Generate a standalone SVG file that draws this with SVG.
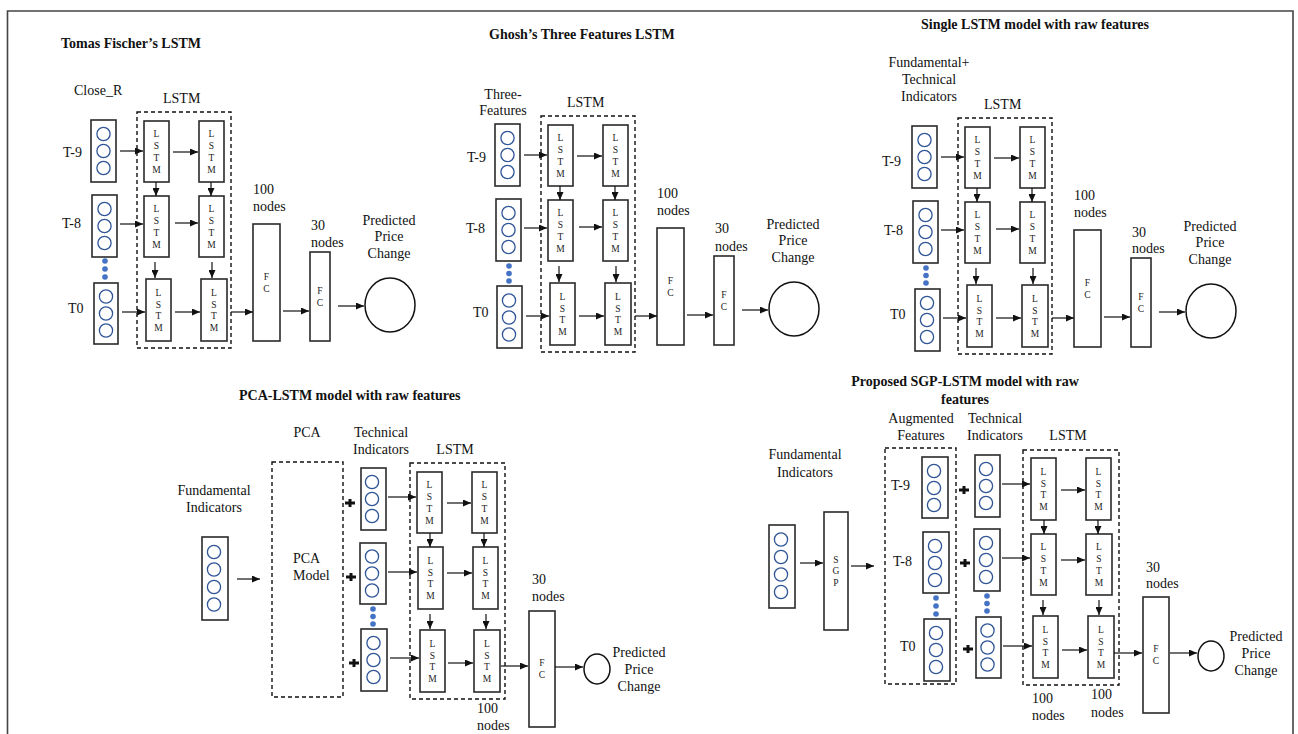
<svg xmlns="http://www.w3.org/2000/svg" width="1298" height="734" viewBox="0 0 1298 734">
<defs>
<marker id="ah" markerWidth="8" markerHeight="7" refX="8" refY="3.5" orient="auto" markerUnits="userSpaceOnUse"><path d="M0,0 L8,3.5 L0,7 z" fill="#111"/></marker>
<style>
.t{font-family:"Liberation Serif","Times New Roman",serif;font-size:14px;fill:#111}
.tb{font-weight:bold}
.m{text-anchor:middle}
.cl{font-family:"Liberation Serif","Times New Roman",serif;font-size:9.5px;text-anchor:middle;fill:#222}
.box{fill:#fff;stroke:#2a2a2a;stroke-width:1.6}
.dash{fill:none;stroke:#111;stroke-width:1.4;stroke-dasharray:4 3}
.ci{fill:none;stroke:#2F5597;stroke-width:1.3}
.dot{fill:#4472C4}
.ar{stroke:#111;stroke-width:1.2;fill:none;marker-end:url(#ah)}
.plus{stroke:#111;stroke-width:3;fill:none}
.out{fill:#fff;stroke:#111;stroke-width:1.5}
.frame{fill:none;stroke:#444;stroke-width:1.6}
</style>
</defs>
<rect width="1298" height="734" fill="#fff"/>
<path class="frame" d="M7.5,734 V11 H1293 V734"/>

<g id="titles">
<text class="t tb" x="61" y="48">Tomas Fischer’s LSTM</text>
<text class="t tb" x="489" y="39">Ghosh’s Three Features LSTM</text>
<text class="t tb" x="921" y="29">Single LSTM model with raw features</text>
<text class="t tb" x="239" y="400">PCA-LSTM model with raw features</text>
<text class="t tb m" x="965" y="386">Proposed SGP-LSTM model with raw</text>
<text class="t tb m" x="965" y="404">features</text>
</g>

<!-- ===== Panel 1 ===== -->
<g id="panel1">
<g id="p1-labels">
<text class="t" x="74" y="95">Close_R</text>
<text class="t" x="163" y="103">LSTM</text>
<text class="t" x="63" y="157">T-9</text>
<text class="t" x="62" y="228">T-8</text>
<text class="t" x="68" y="313">T0</text>
<text class="t" x="253" y="194">100</text><text class="t" x="253" y="211">nodes</text>
<text class="t" x="311" y="230">30</text><text class="t" x="311" y="247">nodes</text>
<text class="t m" x="389" y="225">Predicted</text><text class="t m" x="389" y="241">Price</text><text class="t m" x="389" y="258">Change</text>
</g>
<rect id="p1-lstmgroup" class="dash" x="137" y="112" width="94" height="236"/>
<g id="p1-in9"><rect class="box" x="91" y="120" width="25" height="62"/><circle class="ci" cx="103.5" cy="134" r="6.6"/><circle class="ci" cx="103.5" cy="151" r="6.6"/><circle class="ci" cx="103.5" cy="168" r="6.6"/></g>
<g id="p1-in8"><rect class="box" x="92" y="195" width="25" height="62"/><circle class="ci" cx="104.5" cy="209" r="6.6"/><circle class="ci" cx="104.5" cy="226" r="6.6"/><circle class="ci" cx="104.5" cy="243" r="6.6"/></g>
<g id="p1-dots"><circle class="dot" cx="105" cy="261" r="2.8"/><circle class="dot" cx="105" cy="269" r="2.8"/><circle class="dot" cx="105" cy="277" r="2.8"/></g>
<g id="p1-in0"><rect class="box" x="94" y="283" width="24" height="61"/><circle class="ci" cx="106" cy="296.5" r="6.6"/><circle class="ci" cx="106" cy="313.5" r="6.6"/><circle class="ci" cx="106" cy="330.5" r="6.6"/></g>
<g id="p1-c1a"><rect class="box" x="144" y="121" width="25" height="61"/><text class="cl"><tspan x="156.5" y="137.4">L</tspan><tspan x="156.5" y="149.1">S</tspan><tspan x="156.5" y="160.8">T</tspan><tspan x="156.5" y="172.5">M</tspan></text></g>
<g id="p1-c1b"><rect class="box" x="199" y="121" width="25" height="61"/><text class="cl"><tspan x="211.5" y="137.4">L</tspan><tspan x="211.5" y="149.1">S</tspan><tspan x="211.5" y="160.8">T</tspan><tspan x="211.5" y="172.5">M</tspan></text></g>
<g id="p1-c2a"><rect class="box" x="144" y="196" width="25" height="61"/><text class="cl"><tspan x="156.5" y="212.4">L</tspan><tspan x="156.5" y="224.1">S</tspan><tspan x="156.5" y="235.8">T</tspan><tspan x="156.5" y="247.5">M</tspan></text></g>
<g id="p1-c2b"><rect class="box" x="199" y="196" width="25" height="61"/><text class="cl"><tspan x="211.5" y="212.4">L</tspan><tspan x="211.5" y="224.1">S</tspan><tspan x="211.5" y="235.8">T</tspan><tspan x="211.5" y="247.5">M</tspan></text></g>
<g id="p1-c3a"><rect class="box" x="146" y="279" width="25" height="62"/><text class="cl"><tspan x="158.5" y="295.9">L</tspan><tspan x="158.5" y="307.6">S</tspan><tspan x="158.5" y="319.3">T</tspan><tspan x="158.5" y="331">M</tspan></text></g>
<g id="p1-c3b"><rect class="box" x="201" y="279" width="26" height="62"/><text class="cl"><tspan x="214" y="295.9">L</tspan><tspan x="214" y="307.6">S</tspan><tspan x="214" y="319.3">T</tspan><tspan x="214" y="331">M</tspan></text></g>
<g id="p1-fc1"><rect class="box" x="253" y="224" width="27" height="117"/><text class="cl"><tspan x="266.5" y="279.9">F</tspan><tspan x="266.5" y="291.9">C</tspan></text></g>
<g id="p1-fc2"><rect class="box" x="310" y="252" width="20" height="89"/><text class="cl"><tspan x="320" y="293.9">F</tspan><tspan x="320" y="305.9">C</tspan></text></g>
<g id="p1-out"><ellipse class="out" cx="390" cy="305" rx="25" ry="27"/></g>
<g id="p1-connectors">
<path class="ar" d="M120,151 H143"/><path class="ar" d="M173,152 H198"/>
<path class="ar" d="M120,224 H143"/><path class="ar" d="M175,223 H198"/>
<path class="ar" d="M122,312 H145"/><path class="ar" d="M175,312 H200"/>
<path class="ar" d="M156,182 V196"/><path class="ar" d="M211,182 V196"/>
<path class="ar" d="M155,262 V278"/><path class="ar" d="M212,262 V278"/>
<path class="ar" d="M231,312 H253"/><path class="ar" d="M283,311 H309"/><path class="ar" d="M338,306 H364"/>
</g>
</g>

<!-- ===== Panel 2 ===== -->
<g id="panel2" transform="translate(404,4)">
<g id="p2-labels">
<text class="t m" x="99" y="95">Three-</text><text class="t m" x="99" y="111">Features</text>
<text class="t" x="163" y="103">LSTM</text>
<text class="t" x="63" y="158">T-9</text>
<text class="t" x="62" y="229">T-8</text>
<text class="t" x="69" y="313">T0</text>
<text class="t" x="253" y="194">100</text><text class="t" x="253" y="211">nodes</text>
<text class="t" x="311" y="229">30</text><text class="t" x="311" y="247">nodes</text>
<text class="t m" x="389" y="225">Predicted</text><text class="t m" x="389" y="241">Price</text><text class="t m" x="389" y="258">Change</text>
</g>
<rect id="p2-lstmgroup" class="dash" x="137" y="112" width="94" height="236"/>
<g id="p2-in9"><rect class="box" x="91" y="120" width="25" height="62"/><circle class="ci" cx="103.5" cy="134" r="6.6"/><circle class="ci" cx="103.5" cy="151" r="6.6"/><circle class="ci" cx="103.5" cy="168" r="6.6"/></g>
<g id="p2-in8"><rect class="box" x="92" y="195" width="25" height="62"/><circle class="ci" cx="104.5" cy="209" r="6.6"/><circle class="ci" cx="104.5" cy="226" r="6.6"/><circle class="ci" cx="104.5" cy="243" r="6.6"/></g>
<g id="p2-dots"><circle class="dot" cx="105" cy="262" r="2.8"/><circle class="dot" cx="105" cy="269.5" r="2.8"/><circle class="dot" cx="105" cy="277" r="2.8"/></g>
<g id="p2-in0"><rect class="box" x="93" y="282" width="25" height="62"/><circle class="ci" cx="105" cy="296.5" r="6.6"/><circle class="ci" cx="105" cy="313.5" r="6.6"/><circle class="ci" cx="105" cy="330.5" r="6.6"/></g>
<g id="p2-c1a"><rect class="box" x="144" y="121" width="25" height="61"/><text class="cl"><tspan x="156.5" y="137.4">L</tspan><tspan x="156.5" y="149.1">S</tspan><tspan x="156.5" y="160.8">T</tspan><tspan x="156.5" y="172.5">M</tspan></text></g>
<g id="p2-c1b"><rect class="box" x="199" y="121" width="25" height="61"/><text class="cl"><tspan x="211.5" y="137.4">L</tspan><tspan x="211.5" y="149.1">S</tspan><tspan x="211.5" y="160.8">T</tspan><tspan x="211.5" y="172.5">M</tspan></text></g>
<g id="p2-c2a"><rect class="box" x="144" y="196" width="25" height="61"/><text class="cl"><tspan x="156.5" y="212.4">L</tspan><tspan x="156.5" y="224.1">S</tspan><tspan x="156.5" y="235.8">T</tspan><tspan x="156.5" y="247.5">M</tspan></text></g>
<g id="p2-c2b"><rect class="box" x="199" y="196" width="25" height="61"/><text class="cl"><tspan x="211.5" y="212.4">L</tspan><tspan x="211.5" y="224.1">S</tspan><tspan x="211.5" y="235.8">T</tspan><tspan x="211.5" y="247.5">M</tspan></text></g>
<g id="p2-c3a"><rect class="box" x="146" y="279" width="25" height="62"/><text class="cl"><tspan x="158.5" y="295.9">L</tspan><tspan x="158.5" y="307.6">S</tspan><tspan x="158.5" y="319.3">T</tspan><tspan x="158.5" y="331">M</tspan></text></g>
<g id="p2-c3b"><rect class="box" x="201" y="279" width="26" height="62"/><text class="cl"><tspan x="214" y="295.9">L</tspan><tspan x="214" y="307.6">S</tspan><tspan x="214" y="319.3">T</tspan><tspan x="214" y="331">M</tspan></text></g>
<g id="p2-fc1"><rect class="box" x="253" y="224" width="27" height="117"/><text class="cl"><tspan x="266.5" y="279.9">F</tspan><tspan x="266.5" y="291.9">C</tspan></text></g>
<g id="p2-fc2"><rect class="box" x="310" y="252" width="20" height="89"/><text class="cl"><tspan x="320" y="293.9">F</tspan><tspan x="320" y="305.9">C</tspan></text></g>
<g id="p2-out"><ellipse class="out" cx="390" cy="305" rx="25" ry="27"/></g>
<g id="p2-connectors">
<path class="ar" d="M120,151 H143"/><path class="ar" d="M173,152 H198"/>
<path class="ar" d="M120,224 H143"/><path class="ar" d="M175,223 H198"/>
<path class="ar" d="M122,312 H145"/><path class="ar" d="M175,312 H200"/>
<path class="ar" d="M156,182 V196"/><path class="ar" d="M211,182 V196"/>
<path class="ar" d="M155,262 V278"/><path class="ar" d="M212,262 V278"/>
<path class="ar" d="M231,312 H253"/><path class="ar" d="M283,311 H309"/><path class="ar" d="M338,306 H364"/>
</g>
</g>

<!-- ===== Panel 3 ===== -->
<g id="panel3" transform="translate(821,6)">
<g id="p3-labels">
<text class="t m" x="108" y="61">Fundamental+</text><text class="t m" x="108" y="78">Technical</text><text class="t m" x="108" y="95">Indicators</text>
<text class="t" x="163" y="103">LSTM</text>
<text class="t" x="61" y="160">T-9</text>
<text class="t" x="63" y="229">T-8</text>
<text class="t" x="69" y="313">T0</text>
<text class="t" x="253" y="194">100</text><text class="t" x="253" y="211">nodes</text>
<text class="t" x="311" y="231">30</text><text class="t" x="311" y="247">nodes</text>
<text class="t m" x="389" y="225">Predicted</text><text class="t m" x="389" y="241">Price</text><text class="t m" x="389" y="258">Change</text>
</g>
<rect id="p3-lstmgroup" class="dash" x="137" y="112" width="94" height="236"/>
<g id="p3-in9"><rect class="box" x="91" y="120" width="25" height="62"/><circle class="ci" cx="103.5" cy="134" r="6.6"/><circle class="ci" cx="103.5" cy="151" r="6.6"/><circle class="ci" cx="103.5" cy="168" r="6.6"/></g>
<g id="p3-in8"><rect class="box" x="92" y="195" width="25" height="62"/><circle class="ci" cx="104.5" cy="209" r="6.6"/><circle class="ci" cx="104.5" cy="226" r="6.6"/><circle class="ci" cx="104.5" cy="243" r="6.6"/></g>
<g id="p3-dots"><circle class="dot" cx="105" cy="262" r="2.8"/><circle class="dot" cx="105" cy="269.5" r="2.8"/><circle class="dot" cx="105" cy="277" r="2.8"/></g>
<g id="p3-in0"><rect class="box" x="94" y="283" width="25" height="62"/><circle class="ci" cx="106" cy="297" r="6.6"/><circle class="ci" cx="106" cy="314" r="6.6"/><circle class="ci" cx="106" cy="331" r="6.6"/></g>
<g id="p3-c1a"><rect class="box" x="144" y="121" width="25" height="61"/><text class="cl"><tspan x="156.5" y="137.4">L</tspan><tspan x="156.5" y="149.1">S</tspan><tspan x="156.5" y="160.8">T</tspan><tspan x="156.5" y="172.5">M</tspan></text></g>
<g id="p3-c1b"><rect class="box" x="199" y="121" width="25" height="61"/><text class="cl"><tspan x="211.5" y="137.4">L</tspan><tspan x="211.5" y="149.1">S</tspan><tspan x="211.5" y="160.8">T</tspan><tspan x="211.5" y="172.5">M</tspan></text></g>
<g id="p3-c2a"><rect class="box" x="144" y="196" width="25" height="61"/><text class="cl"><tspan x="156.5" y="212.4">L</tspan><tspan x="156.5" y="224.1">S</tspan><tspan x="156.5" y="235.8">T</tspan><tspan x="156.5" y="247.5">M</tspan></text></g>
<g id="p3-c2b"><rect class="box" x="199" y="196" width="25" height="61"/><text class="cl"><tspan x="211.5" y="212.4">L</tspan><tspan x="211.5" y="224.1">S</tspan><tspan x="211.5" y="235.8">T</tspan><tspan x="211.5" y="247.5">M</tspan></text></g>
<g id="p3-c3a"><rect class="box" x="146" y="279" width="25" height="62"/><text class="cl"><tspan x="158.5" y="295.9">L</tspan><tspan x="158.5" y="307.6">S</tspan><tspan x="158.5" y="319.3">T</tspan><tspan x="158.5" y="331">M</tspan></text></g>
<g id="p3-c3b"><rect class="box" x="201" y="279" width="26" height="62"/><text class="cl"><tspan x="214" y="295.9">L</tspan><tspan x="214" y="307.6">S</tspan><tspan x="214" y="319.3">T</tspan><tspan x="214" y="331">M</tspan></text></g>
<g id="p3-fc1"><rect class="box" x="253" y="224" width="27" height="117"/><text class="cl"><tspan x="266.5" y="279.9">F</tspan><tspan x="266.5" y="291.9">C</tspan></text></g>
<g id="p3-fc2"><rect class="box" x="310" y="252" width="20" height="89"/><text class="cl"><tspan x="320" y="293.9">F</tspan><tspan x="320" y="305.9">C</tspan></text></g>
<g id="p3-out"><ellipse class="out" cx="390" cy="305" rx="25" ry="27"/></g>
<g id="p3-connectors">
<path class="ar" d="M120,151 H143"/><path class="ar" d="M173,152 H198"/>
<path class="ar" d="M120,224 H143"/><path class="ar" d="M175,223 H198"/>
<path class="ar" d="M122,312 H145"/><path class="ar" d="M175,312 H200"/>
<path class="ar" d="M156,182 V196"/><path class="ar" d="M211,182 V196"/>
<path class="ar" d="M155,262 V278"/><path class="ar" d="M212,262 V278"/>
<path class="ar" d="M231,312 H253"/><path class="ar" d="M283,311 H309"/><path class="ar" d="M338,306 H364"/>
</g>
</g>

<!-- ===== Panel 4: PCA-LSTM ===== -->
<g id="panel4">
<g id="p4-labels">
<text class="t m" x="214" y="495">Fundamental</text><text class="t m" x="214" y="512">Indicators</text>
<text class="t m" x="307" y="437">PCA</text>
<text class="t m" x="381" y="437">Technical</text><text class="t m" x="381" y="454">Indicators</text>
<text class="t m" x="455" y="454">LSTM</text>
<text class="t" x="532" y="584">30</text><text class="t" x="532" y="601">nodes</text>
<text class="t" x="477" y="713">100</text><text class="t" x="477" y="730">nodes</text>
<text class="t m" x="639" y="657">Predicted</text><text class="t m" x="639" y="674">Price</text><text class="t m" x="639" y="691">Change</text>
</g>
<g id="p4-fund"><rect class="box" x="202" y="537" width="26" height="83"/><circle class="ci" cx="214" cy="552" r="6.6"/><circle class="ci" cx="214" cy="569.5" r="6.6"/><circle class="ci" cx="214" cy="587" r="6.6"/><circle class="ci" cx="214" cy="604.5" r="6.6"/></g>
<g id="p4-pca"><rect class="dash" x="272" y="462" width="71" height="235"/><text class="t" x="293" y="563">PCA</text><text class="t" x="293" y="580">Model</text></g>
<g id="p4-plus"><path class="plus" d="M345,503 H355 M350,499 V507 M346,577 H356 M351,573 V581 M349,663 H359 M354,659 V667"/></g>
<g id="p4-tech1"><rect class="box" x="361" y="468" width="25" height="62"/><circle class="ci" cx="372" cy="482" r="6.6"/><circle class="ci" cx="372" cy="499" r="6.6"/><circle class="ci" cx="372" cy="516" r="6.6"/></g>
<g id="p4-tech2"><rect class="box" x="360" y="543" width="26" height="61"/><circle class="ci" cx="372" cy="556.5" r="6.6"/><circle class="ci" cx="372" cy="573.5" r="6.6"/><circle class="ci" cx="372" cy="590.5" r="6.6"/></g>
<g id="p4-dots"><circle class="dot" cx="373" cy="609" r="2.8"/><circle class="dot" cx="373" cy="616.5" r="2.8"/><circle class="dot" cx="373" cy="624" r="2.8"/></g>
<g id="p4-tech3"><rect class="box" x="361" y="629" width="26" height="62"/><circle class="ci" cx="373.5" cy="643" r="6.6"/><circle class="ci" cx="373.5" cy="660" r="6.6"/><circle class="ci" cx="373.5" cy="677" r="6.6"/></g>
<rect id="p4-lstmgroup" class="dash" x="410" y="463" width="95" height="236"/>
<g id="p4-c1a"><rect class="box" x="417" y="472" width="25" height="61"/><text class="cl"><tspan x="429.5" y="488.4">L</tspan><tspan x="429.5" y="500.1">S</tspan><tspan x="429.5" y="511.8">T</tspan><tspan x="429.5" y="523.5">M</tspan></text></g>
<g id="p4-c1b"><rect class="box" x="472" y="472" width="25" height="61"/><text class="cl"><tspan x="484.5" y="488.4">L</tspan><tspan x="484.5" y="500.1">S</tspan><tspan x="484.5" y="511.8">T</tspan><tspan x="484.5" y="523.5">M</tspan></text></g>
<g id="p4-c2a"><rect class="box" x="418" y="547" width="25" height="62"/><text class="cl"><tspan x="430.5" y="563.9">L</tspan><tspan x="430.5" y="575.6">S</tspan><tspan x="430.5" y="587.3">T</tspan><tspan x="430.5" y="599">M</tspan></text></g>
<g id="p4-c2b"><rect class="box" x="473" y="547" width="25" height="62"/><text class="cl"><tspan x="485.5" y="563.9">L</tspan><tspan x="485.5" y="575.6">S</tspan><tspan x="485.5" y="587.3">T</tspan><tspan x="485.5" y="599">M</tspan></text></g>
<g id="p4-c3a"><rect class="box" x="420" y="630" width="25" height="62"/><text class="cl"><tspan x="432.5" y="646.9">L</tspan><tspan x="432.5" y="658.6">S</tspan><tspan x="432.5" y="670.3">T</tspan><tspan x="432.5" y="682">M</tspan></text></g>
<g id="p4-c3b"><rect class="box" x="474" y="630" width="26" height="62"/><text class="cl"><tspan x="487" y="646.9">L</tspan><tspan x="487" y="658.6">S</tspan><tspan x="487" y="670.3">T</tspan><tspan x="487" y="682">M</tspan></text></g>
<g id="p4-fc"><rect class="box" x="529" y="611" width="26" height="116"/><text class="cl"><tspan x="542" y="666.4">F</tspan><tspan x="542" y="678.4">C</tspan></text></g>
<g id="p4-out"><ellipse class="out" cx="597" cy="669" rx="13" ry="15"/></g>
<g id="p4-connectors">
<path class="ar" d="M237,579 H260"/>
<path class="ar" d="M388,497 H416"/><path class="ar" d="M388,572 H417"/><path class="ar" d="M390,658 H419"/>
<path class="ar" d="M447,503 H471"/><path class="ar" d="M447,573 H472"/><path class="ar" d="M448,663 H473"/>
<path class="ar" d="M430,533 V547"/><path class="ar" d="M484,533 V547"/>
<path class="ar" d="M430,614 V629"/><path class="ar" d="M486,614 V629"/>
<path class="ar" d="M501,666 H528"/><path class="ar" d="M555,667 H583"/>
</g>
</g>

<!-- ===== Panel 5: SGP-LSTM ===== -->
<g id="panel5">
<g id="p5-labels">
<text class="t m" x="805" y="459">Fundamental</text><text class="t m" x="805" y="477">Indicators</text>
<text class="t m" x="921" y="423">Augmented</text><text class="t m" x="921" y="440">Features</text>
<text class="t m" x="995" y="423">Technical</text><text class="t m" x="995" y="440">Indicators</text>
<text class="t m" x="1068" y="440">LSTM</text>
<text class="t" x="891" y="490">T-9</text>
<text class="t" x="893" y="566">T-8</text>
<text class="t" x="900" y="651">T0</text>
<text class="t" x="1146" y="572">30</text><text class="t" x="1146" y="588">nodes</text>
<text class="t" x="1032" y="703">100</text><text class="t" x="1032" y="720">nodes</text>
<text class="t" x="1091" y="699">100</text><text class="t" x="1091" y="717">nodes</text>
<text class="t m" x="1256" y="641">Predicted</text><text class="t m" x="1256" y="658">Price</text><text class="t m" x="1256" y="675">Change</text>
</g>
<g id="p5-fund"><rect class="box" x="769" y="525" width="26" height="83"/><circle class="ci" cx="781" cy="539.5" r="6.6"/><circle class="ci" cx="781" cy="557" r="6.6"/><circle class="ci" cx="781" cy="574.5" r="6.6"/><circle class="ci" cx="781" cy="592" r="6.6"/></g>
<g id="p5-sgp"><rect class="box" x="824" y="512" width="24" height="118"/><text class="cl"><tspan x="836" y="562.7">S</tspan><tspan x="836" y="574.4">G</tspan><tspan x="836" y="586.1">P</tspan></text></g>
<rect id="p5-auggroup" class="dash" x="885" y="448" width="71" height="236"/>
<g id="p5-aug9"><rect class="box" x="922" y="457" width="26" height="61"/><circle class="ci" cx="934" cy="471" r="6.6"/><circle class="ci" cx="934" cy="488" r="6.6"/><circle class="ci" cx="934" cy="505" r="6.6"/></g>
<g id="p5-aug8"><rect class="box" x="923" y="532" width="26" height="61"/><circle class="ci" cx="935" cy="546" r="6.6"/><circle class="ci" cx="935" cy="563" r="6.6"/><circle class="ci" cx="935" cy="580" r="6.6"/></g>
<g id="p5-augdots"><circle class="dot" cx="936" cy="598" r="2.8"/><circle class="dot" cx="936" cy="606" r="2.8"/><circle class="dot" cx="936" cy="614" r="2.8"/></g>
<g id="p5-aug0"><rect class="box" x="924" y="619" width="26" height="62"/><circle class="ci" cx="936" cy="633" r="6.6"/><circle class="ci" cx="936" cy="650" r="6.6"/><circle class="ci" cx="936" cy="667" r="6.6"/></g>
<g id="p5-plus"><path class="plus" d="M959,490 H969 M964,486 V494 M960,563 H970 M965,559 V567 M963,649 H973 M968,645 V653"/></g>
<g id="p5-tech1"><rect class="box" x="975" y="455" width="25" height="62"/><circle class="ci" cx="986" cy="469" r="6.6"/><circle class="ci" cx="986" cy="486" r="6.6"/><circle class="ci" cx="986" cy="503" r="6.6"/></g>
<g id="p5-tech2"><rect class="box" x="974" y="529" width="26" height="62"/><circle class="ci" cx="986" cy="543" r="6.6"/><circle class="ci" cx="986" cy="560" r="6.6"/><circle class="ci" cx="986" cy="577" r="6.6"/></g>
<g id="p5-techdots"><circle class="dot" cx="987" cy="596" r="2.8"/><circle class="dot" cx="987" cy="603.5" r="2.8"/><circle class="dot" cx="987" cy="611" r="2.8"/></g>
<g id="p5-tech3"><rect class="box" x="976" y="617" width="25" height="61"/><circle class="ci" cx="987.5" cy="630.5" r="6.6"/><circle class="ci" cx="987.5" cy="647.5" r="6.6"/><circle class="ci" cx="987.5" cy="664.5" r="6.6"/></g>
<rect id="p5-lstmgroup" class="dash" x="1023" y="450" width="96" height="235"/>
<g id="p5-c1a"><rect class="box" x="1031" y="458" width="25" height="62"/><text class="cl"><tspan x="1043.5" y="474.9">L</tspan><tspan x="1043.5" y="486.6">S</tspan><tspan x="1043.5" y="498.3">T</tspan><tspan x="1043.5" y="510">M</tspan></text></g>
<g id="p5-c1b"><rect class="box" x="1086" y="458" width="25" height="62"/><text class="cl"><tspan x="1098.5" y="474.9">L</tspan><tspan x="1098.5" y="486.6">S</tspan><tspan x="1098.5" y="498.3">T</tspan><tspan x="1098.5" y="510">M</tspan></text></g>
<g id="p5-c2a"><rect class="box" x="1031" y="534" width="25" height="61"/><text class="cl"><tspan x="1043.5" y="550.4">L</tspan><tspan x="1043.5" y="562.1">S</tspan><tspan x="1043.5" y="573.8">T</tspan><tspan x="1043.5" y="585.5">M</tspan></text></g>
<g id="p5-c2b"><rect class="box" x="1086" y="534" width="26" height="61"/><text class="cl"><tspan x="1099" y="550.4">L</tspan><tspan x="1099" y="562.1">S</tspan><tspan x="1099" y="573.8">T</tspan><tspan x="1099" y="585.5">M</tspan></text></g>
<g id="p5-c3a"><rect class="box" x="1033" y="616" width="25" height="62"/><text class="cl"><tspan x="1045.5" y="632.9">L</tspan><tspan x="1045.5" y="644.6">S</tspan><tspan x="1045.5" y="656.3">T</tspan><tspan x="1045.5" y="668">M</tspan></text></g>
<g id="p5-c3b"><rect class="box" x="1088" y="616" width="26" height="62"/><text class="cl"><tspan x="1101" y="632.9">L</tspan><tspan x="1101" y="644.6">S</tspan><tspan x="1101" y="656.3">T</tspan><tspan x="1101" y="668">M</tspan></text></g>
<g id="p5-fc"><rect class="box" x="1143" y="597" width="26" height="116"/><text class="cl"><tspan x="1156" y="652.4">F</tspan><tspan x="1156" y="664.4">C</tspan></text></g>
<g id="p5-out"><ellipse class="out" cx="1211" cy="656" rx="13" ry="15"/></g>
<g id="p5-connectors">
<path class="ar" d="M800,563 H823"/><path class="ar" d="M851,566 H874"/>
<path class="ar" d="M1002,484 H1030"/><path class="ar" d="M1002,558 H1030"/><path class="ar" d="M1003,646 H1032"/>
<path class="ar" d="M1061,490 H1085"/><path class="ar" d="M1061,560 H1085"/><path class="ar" d="M1062,650 H1087"/>
<path class="ar" d="M1044,520 V534"/><path class="ar" d="M1098,520 V534"/>
<path class="ar" d="M1043,600 V615"/><path class="ar" d="M1099,600 V615"/>
<path class="ar" d="M1114,653 H1142"/><path class="ar" d="M1170,653 H1197"/>
</g>
</g>
</svg>
